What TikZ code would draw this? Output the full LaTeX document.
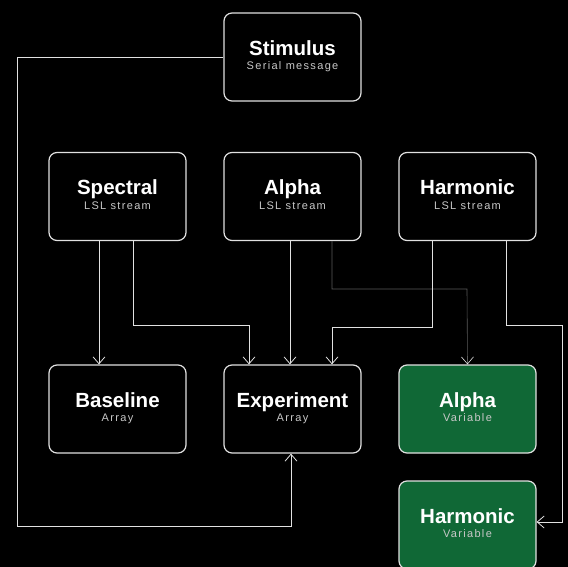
\documentclass[tikz,border=0pt]{standalone}
\usepackage{fontspec}
\setmainfont{Liberation Sans}
\usetikzlibrary{arrows.meta}
\definecolor{edge}{RGB}{225,225,225}
\definecolor{dimedge}{RGB}{90,90,90}
\definecolor{subtxt}{RGB}{200,200,200}
\definecolor{vargreen}{RGB}{16,104,54}
\tikzset{
  x=1pt,y=-1pt,
  card/.style={draw=edge, line width=1.2pt, rounded corners=8pt, fill=black,
    minimum width=137pt, minimum height=88pt, inner sep=0pt},
  varcard/.style={card, fill=vargreen},
  conn/.style={draw=edge, line width=0.8pt, -{Straight Barb[length=7pt,width=12pt]}},
  dimconn/.style={draw=dimedge, line width=0.6pt, -{Straight Barb[length=7pt,width=12pt,color=edge]}}
}
\newcommand{\cardtext}[2]{\begin{tabular}{@{}c@{}}{\bfseries\fontsize{20.5}{22}\selectfont\color{white}#1}\\[2.5pt]{\fontsize{11}{12}\selectfont\addfontfeature{LetterSpace=12}\color{subtxt}#2}\end{tabular}}
\begin{document}
\begin{tikzpicture}
\fill[black] (0,0) rectangle (568,567);
\useasboundingbox (0,0) rectangle (568,567);
\node[card] (stim) at (292.5,57) {\cardtext{Stimulus}{Serial message}};
\node[card] (spec) at (117.5,196.5) {\cardtext{Spectral}{LSL stream}};
\node[card] (alpha) at (292.5,196.5) {\cardtext{Alpha}{LSL stream}};
\node[card] (harm) at (467.5,196.5) {\cardtext{Harmonic}{LSL stream}};
\node[card] (base) at (117.5,409) {\cardtext{Baseline}{Array}};
\node[card] (exp) at (292.5,409) {\cardtext{Experiment}{Array}};
\node[varcard] (avar) at (467.5,409) {\cardtext{Alpha}{Variable}};
\node[varcard] (hvar) at (467.5,525) {\cardtext{Harmonic}{Variable}};
% Stimulus -> Experiment
\draw[conn] (stim.west) -- (17,57) -- (17,526) -- (291,526) -- (exp.south -| 291,0);
% Spectral
\draw[conn] (spec.south -| 99,0) -- (base.north -| 99,0);
\draw[conn] (spec.south -| 133,0) -- (133,325) -- (249,325) -- (exp.north -| 249,0);
% Alpha
\draw[conn] (alpha.south -| 290,0) -- (exp.north -| 290,0);
\draw[dimconn] (alpha.south -| 332,0) -- (332,289) -- (467,289) -- (avar.north);
% Harmonic
\draw[conn] (harm.south -| 432,0) -- (432,327) -- (332,327) -- (exp.north -| 332,0);
\draw[conn] (harm.south -| 506,0) -- (506,325) -- (562,325) -- (562,522) -- (hvar.east |- 0,522);
\end{tikzpicture}
\end{document}
